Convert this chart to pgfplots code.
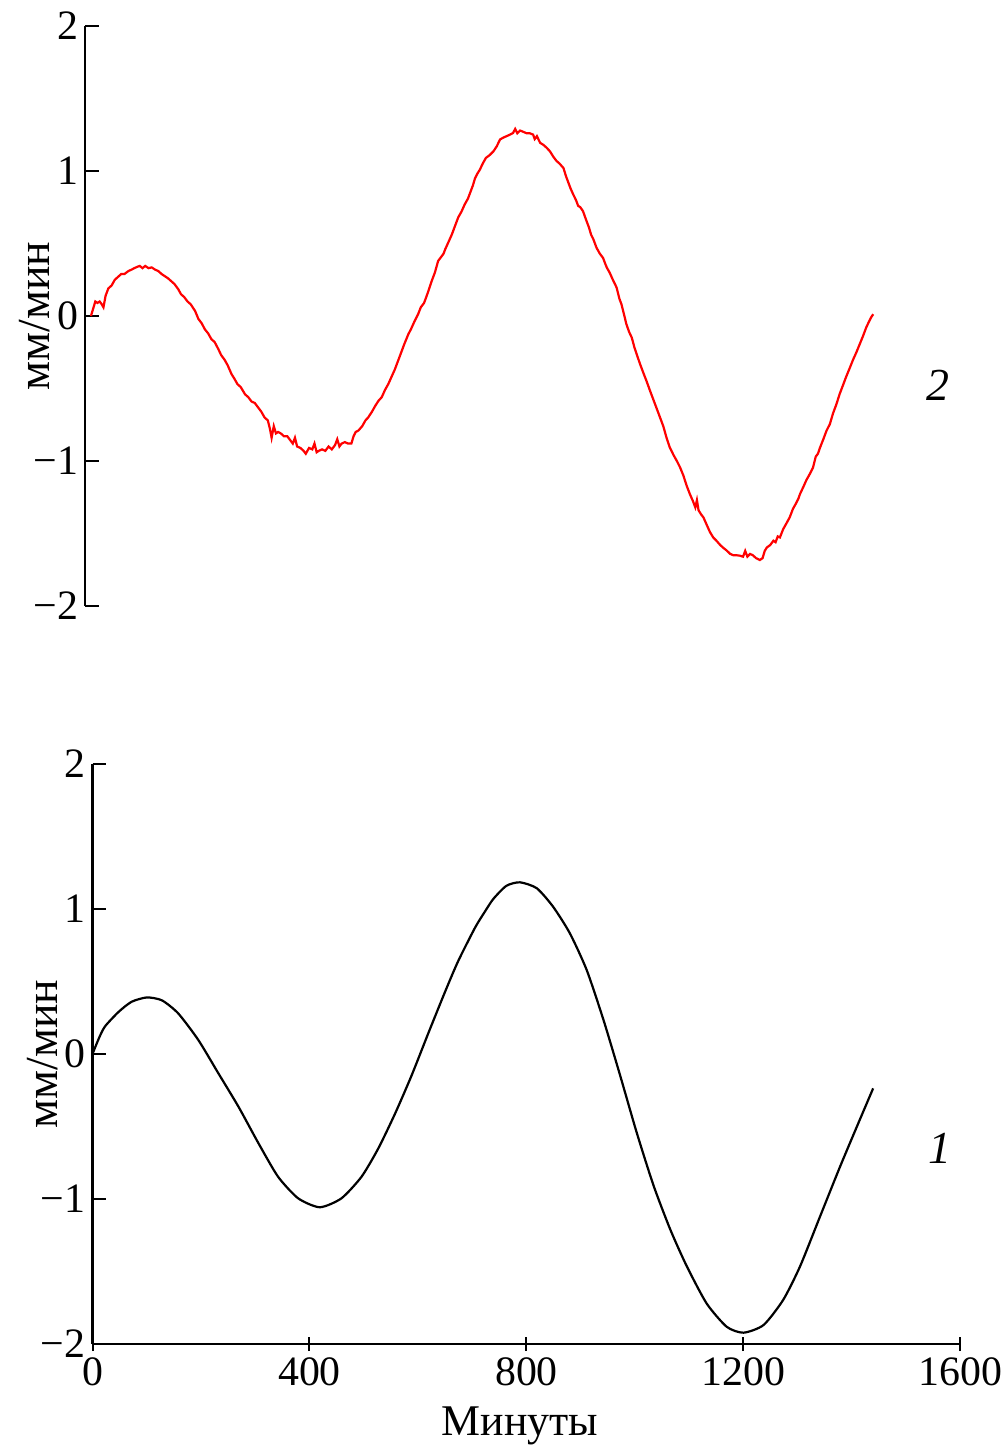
\documentclass[border=0pt]{standalone}
\usepackage{fontspec}
\setmainfont{Liberation Serif}
\usepackage{pgfplots}
\pgfplotsset{compat=1.18}
\begin{document}
\begin{tikzpicture}
\useasboundingbox (0,0) rectangle (501bp,724bp);
\pgfplotsset{
  myax/.style={
    x=0.27125bp, y=72.5bp,
    ymin=-2, ymax=2,
    axis y line=left,
    axis line style={line width=1.3bp},
    tick align=inside,
    major tick length=7bp,
    every tick/.style={line width=1bp, black},
    ytick={-2,-1,0,1,2},
    yticklabels={−2,−1,0,1,2},
    tick label style={font=\fontsize{21}{24}\selectfont},
    ylabel={мм/мин},
    ylabel style={font=\fontsize{23}{26}\selectfont, at={(rel axis cs:0,0.5)}, anchor=center, yshift=25bp},
    clip=false,
  }
}
% top panel (curve 2)
\begin{axis}[myax, anchor=south west, at={(42.5bp,421bp)},
  xmin=-11, xmax=1600, hide x axis, y axis line style={-}]
\addplot[red, line width=1.1bp] coordinates {
(0,0.00) (4,0.05) (8,0.10) (12,0.09) (16,0.10) (20,0.08) (23,0.06) (27,0.14) (32,0.19)
(38,0.21) (44,0.25) (50,0.27) (56,0.29) (62,0.29) (69,0.31) (75,0.32) (80,0.33) (86,0.34)
(90,0.345) (95,0.33) (100,0.345) (106,0.33) (112,0.335) (118,0.32) (124,0.31) (130,0.29)
(136,0.275) (142,0.26) (148,0.24) (154,0.22) (161,0.184) (166,0.15) (172,0.13) (178,0.10)
(184,0.08) (192,0.034) (198,-0.02) (204,-0.05) (210,-0.092) (216,-0.12) (222,-0.16)
(228,-0.18) (235,-0.23) (240,-0.27) (246,-0.30) (252,-0.34) (259,-0.40) (264,-0.43)
(270,-0.47) (276,-0.49) (284,-0.54) (290,-0.56) (296,-0.59) (302,-0.60) (308,-0.63)
(314,-0.66) (320,-0.70) (326,-0.72) (330,-0.78) (333,-0.84) (337,-0.76) (341,-0.81)
(345,-0.80) (350,-0.81) (356,-0.83) (362,-0.83) (368,-0.86) (372,-0.88) (376,-0.84)
(380,-0.90) (386,-0.91) (392,-0.93) (396,-0.95) (402,-0.91) (408,-0.92) (412,-0.88)
(416,-0.94) (420,-0.93) (426,-0.92) (432,-0.93) (438,-0.90) (444,-0.92) (450,-0.89)
(454,-0.85) (458,-0.90) (462,-0.88) (468,-0.87) (474,-0.88) (480,-0.88) (484,-0.83)
(488,-0.80) (493,-0.79) (500,-0.76) (506,-0.72) (511,-0.70) (518,-0.66) (524,-0.62)
(530,-0.585) (536,-0.56) (542,-0.51) (548,-0.47) (554,-0.42) (560,-0.37) (566,-0.31)
(572,-0.25) (578,-0.19) (585,-0.126) (590,-0.09) (596,-0.04) (603,0.012) (608,0.06)
(614,0.09) (618,0.13) (622,0.172) (628,0.24) (634,0.30) (640,0.38) (646,0.41) (650,0.43)
(653,0.46) (659,0.51) (665,0.56) (670,0.61) (674,0.65) (677,0.68) (683,0.72) (689,0.77)
(695,0.81) (700,0.86) (704,0.90) (708,0.95) (712,0.98) (717,1.01) (722,1.05) (728,1.09)
(735,1.11) (742,1.136) (748,1.17) (754,1.217) (760,1.23) (766,1.24) (772,1.25) (778,1.262)
(782,1.29) (786,1.26) (791,1.279) (797,1.27) (803,1.26) (809,1.26) (815,1.251) (818,1.22)
(822,1.24) (828,1.194) (834,1.18) (840,1.16) (846,1.136) (852,1.10) (858,1.07) (864,1.05)
(871,1.02) (876,0.96) (880,0.92) (884,0.88) (889,0.838) (894,0.80) (898,0.76) (902,0.75)
(907,0.723) (912,0.67) (918,0.61) (922,0.56) (926,0.53) (932,0.47) (938,0.43) (944,0.40)
(948,0.36) (951,0.333) (956,0.30) (962,0.25) (966,0.22) (969,0.195) (974,0.12) (978,0.08)
(982,0.02) (987,-0.057) (992,-0.11) (997,-0.15) (1002,-0.22) (1006,-0.264) (1012,-0.33)
(1018,-0.39) (1024,-0.448) (1030,-0.51) (1036,-0.57) (1043,-0.64) (1049,-0.70) (1055,-0.76)
(1061,-0.84) (1067,-0.907) (1074,-0.96) (1080,-1.00) (1086,-1.045) (1092,-1.10)
(1098,-1.17) (1104,-1.228) (1110,-1.28) (1114,-1.32) (1117,-1.27) (1120,-1.34)
(1125,-1.37) (1129,-1.389) (1135,-1.44) (1141,-1.49) (1147,-1.527) (1153,-1.55)
(1160,-1.58) (1166,-1.60) (1172,-1.618) (1178,-1.64) (1184,-1.65) (1190,-1.65)
(1196,-1.653) (1202,-1.66) (1206,-1.62) (1210,-1.66) (1215,-1.641) (1220,-1.65)
(1226,-1.67) (1233,-1.683) (1238,-1.67) (1242,-1.62) (1246,-1.596) (1252,-1.58)
(1258,-1.55) (1262,-1.56) (1266,-1.52) (1270,-1.527) (1276,-1.47) (1282,-1.43)
(1288,-1.389) (1294,-1.33) (1300,-1.29) (1304,-1.26) (1307,-1.228) (1313,-1.18)
(1319,-1.13) (1325,-1.09) (1331,-1.045) (1336,-0.97) (1340,-0.95) (1344,-0.907)
(1350,-0.85) (1356,-0.79) (1362,-0.746) (1368,-0.67) (1374,-0.61) (1380,-0.539)
(1386,-0.48) (1392,-0.42) (1399,-0.356) (1405,-0.30) (1411,-0.25) (1417,-0.195)
(1423,-0.14) (1429,-0.08) (1434,-0.04) (1438,-0.01) (1442,0.012)
};
\node[font=\fontsize{23}{26}\selectfont\itshape] at (axis cs:1561,-0.48) {2};
\end{axis}
% bottom panel (curve 1)
\begin{axis}[myax, anchor=south west, at={(46.25bp,52bp)},
  xmin=0, xmax=1600,
  axis x line=bottom,
  x axis line style={-}, y axis line style={-},
  xtick={0,400,800,1200,1600},
  xticklabels={0,400,800,1200,1600}]
\addplot[black, line width=1.1bp, smooth, tension=0.4] coordinates {
(0,0.0) (12,0.11) (23,0.19) (48,0.29) (72,0.36) (100,0.39) (128,0.37) (158,0.28) (195,0.097)
(232,-0.133) (269,-0.363) (306,-0.616) (342,-0.846) (379,-0.995) (419,-1.057)
(459,-0.995) (496,-0.846) (527,-0.650) (558,-0.409) (588,-0.150) (619,0.143)
(650,0.43) (674,0.64) (705,0.87) (723,0.98) (739,1.07) (763,1.160) (788,1.184)
(819,1.143) (849,1.016) (880,0.832) (911,0.579) (942,0.234) (972,-0.140)
(1003,-0.540) (1034,-0.905) (1065,-1.210) (1095,-1.460) (1132,-1.72) (1169,-1.881)
(1200,-1.922) (1237,-1.869) (1273,-1.697) (1304,-1.467) (1341,-1.122) (1378,-0.777)
(1409,-0.501) (1439,-0.237)
};
\node[font=\fontsize{23}{26}\selectfont\itshape] at (axis cs:1562,-0.65) {1};
\node[font=\fontsize{22}{25}\selectfont, anchor=base] at (axis cs:788,-2) [yshift=-45.5bp] {Минуты};
\end{axis}
\end{tikzpicture}
\end{document}
